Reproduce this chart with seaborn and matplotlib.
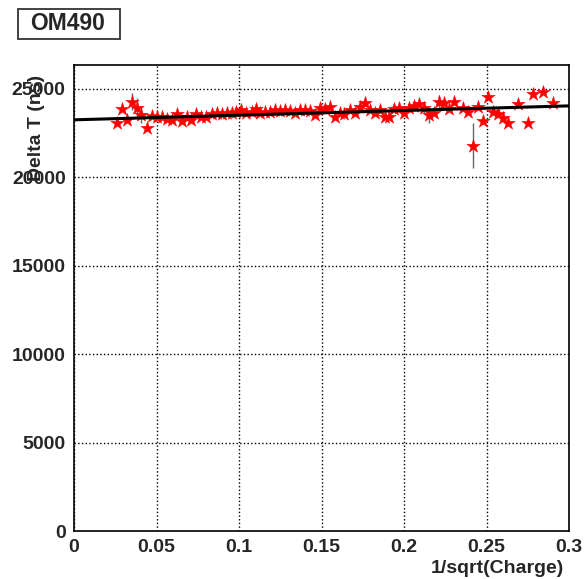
import seaborn as sns
import matplotlib.pyplot as plt
import matplotlib.patches as mpatches
from matplotlib.ticker import MultipleLocator
import pandas as pd
import numpy as np

# values
inv_sqrt_charge = [
    0.0259, 0.0289, 0.0319, 0.0350, 0.0380, 0.0406, 0.0441, 0.0471, 0.0501, 0.0532,
    0.0562, 0.0592, 0.0622, 0.0653, 0.0683, 0.0709, 0.0739, 0.0770, 0.0800, 0.0835,
    0.0865, 0.0895, 0.0925, 0.0956, 0.0982, 0.1010, 0.1042, 0.1077, 0.1103, 0.1127,
    0.1158, 0.1188, 0.1218, 0.1248, 0.1279, 0.1309, 0.1339, 0.1370, 0.1400, 0.1430,
    0.1461, 0.1491, 0.1521, 0.1552, 0.1582, 0.1612, 0.1638, 0.1673, 0.1703, 0.1733,
    0.1764, 0.1794, 0.1824, 0.1855, 0.1885, 0.1911, 0.1941, 0.1972, 0.2002, 0.2032,
    0.2062, 0.2093, 0.2123, 0.2153, 0.2184, 0.2214, 0.2244, 0.2275, 0.2305, 0.2359,
    0.2390, 0.2420, 0.2450, 0.2481, 0.2511, 0.2541, 0.2572, 0.2602, 0.2632, 0.2693,
    0.2753, 0.2784, 0.2844, 0.2905,
]
delta_t = [
    23094, 23885, 23246, 24281, 23908, 23529, 22777, 23472, 23399, 23433,
    23320, 23246, 23568, 23190, 23433, 23246, 23568, 23433, 23399, 23586,
    23625, 23586, 23659, 23659, 23716, 23812, 23625, 23716, 23851, 23625,
    23682, 23716, 23812, 23772, 23812, 23772, 23625, 23812, 23812, 23772,
    23529, 23908, 23851, 23998, 23433, 23625, 23568, 23812, 23625, 23998,
    24191, 23812, 23625, 23812, 23433, 23433, 23851, 23942, 23659, 23908,
    24038, 24134, 23942, 23529, 23659, 24247, 24191, 23868, 24281, 23908,
    23716, 21776, 23998, 23190, 24530, 23716, 23586, 23376, 23094, 24151,
    23060, 24700, 24847, 24191,
]
delta_t_err = [
    120, 150, 120, 500, 560, 480, 150, 120, 120, 120,
    120, 120, 120, 120, 120, 120, 120, 120, 120, 120,
    120, 120, 120, 120, 120, 120, 120, 120, 120, 120,
    120, 120, 120, 120, 120, 120, 120, 120, 120, 120,
    120, 120, 120, 120, 120, 120, 120, 120, 120, 120,
    120, 120, 120, 120, 120, 120, 120, 120, 120, 120,
    120, 120, 300, 440, 120, 400, 120, 120, 120, 120,
    120, 1270, 120, 150, 120, 120, 120, 120, 120, 120,
    120, 120, 120, 120,
]
fit_x = [0.001, 0.3]
fit_intercept = 23250
fit_slope = 2630

df = pd.DataFrame({"x": inv_sqrt_charge, "y": delta_t, "err": delta_t_err})
fit_df = pd.DataFrame({"x": fit_x})
fit_df["y"] = fit_intercept + fit_slope * fit_df["x"]

sns.set_style("white")
plt.rcParams["font.family"] = ["Liberation Sans", "DejaVu Sans"]
plt.rcParams["font.weight"] = "bold"

fig = plt.figure(figsize=(5.87, 5.79), dpi=100)
ax = fig.add_axes([74 / 587, 1 - 531 / 579, 495 / 587, 466 / 579])

ax.errorbar(df["x"], df["y"], yerr=df["err"], fmt="none", ecolor="0.4",
            elinewidth=1, zorder=2)
sns.scatterplot(data=df, x="x", y="y", marker="*", s=105, color="red",
                edgecolor="red", linewidth=0.3, ax=ax, zorder=3)
sns.lineplot(data=fit_df, x="x", y="y", color="black", linewidth=2.2,
             ax=ax, zorder=4)

ax.set_xlim(0, 0.3)
ax.set_ylim(0, 26350)
ax.xaxis.set_major_locator(MultipleLocator(0.05))
ax.xaxis.set_minor_locator(MultipleLocator(0.01))
ax.yaxis.set_major_locator(MultipleLocator(5000))
ax.yaxis.set_minor_locator(MultipleLocator(1000))
ax.set_xticks([0, 0.05, 0.1, 0.15, 0.2, 0.25, 0.3])
ax.set_xticklabels(["0", "0.05", "0.1", "0.15", "0.2", "0.25", "0.3"])
ax.tick_params(which="both", direction="in", top=False, right=False,
               labelsize=14, pad=6)
ax.tick_params(which="major", length=9, width=1)
ax.tick_params(which="minor", length=5, width=1)
for lab in ax.get_xticklabels() + ax.get_yticklabels():
    lab.set_fontweight("bold")
ax.grid(True, which="major", linestyle=":", color="black", linewidth=1)
ax.set_axisbelow(True)
for sp in ax.spines.values():
    sp.set_color("black")
    sp.set_linewidth(1.2)

ax.set_xlabel("1/sqrt(Charge)", fontsize=14, fontweight="bold", loc="right")
ax.xaxis.set_label_coords((564 - 74) / 495, -0.062)
ax.set_ylabel("Delta T (ns)", fontsize=14, fontweight="bold", loc="top")
ax.yaxis.set_label_coords((45 - 74) / 495, (531 - 75) / 466)

fig.patches.append(mpatches.Rectangle((18 / 587, 1 - 39 / 579), 102 / 587, 30 / 579,
                                      transform=fig.transFigure, facecolor="white",
                                      edgecolor="#333333", linewidth=1.3))
fig.text(30 / 587, 1 - 24 / 579, "OM490", fontsize=16.5, fontweight="bold",
         ha="left", va="center")

fig.savefig("out.png", dpi=100)
plt.close(fig)
